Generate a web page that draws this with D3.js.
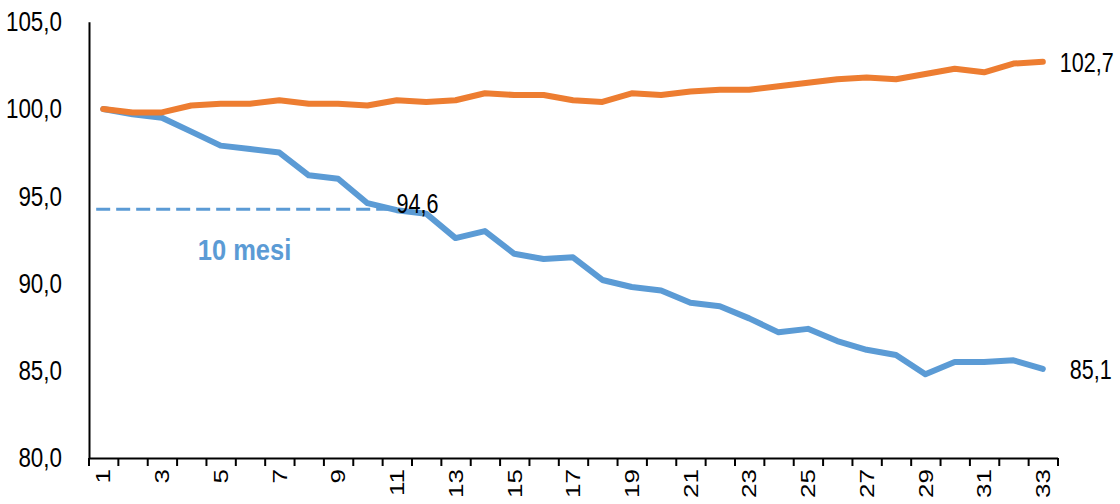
<!DOCTYPE html>
<html>
<head>
<meta charset="utf-8">
<script src="https://cdn.jsdelivr.net/npm/d3@7"></script>
<style>
  body { margin: 0; background: #fff; }
  svg { display: block; }
  text { font-family: "Liberation Sans", Arial, sans-serif; }
  .axis text { fill: #000; }
</style>
</head>
<body>
<svg class="chart" width="1120" height="504"></svg>
<script>
// months since start
const months = [1, 2, 3, 4, 5, 6, 7, 8, 9, 10, 11, 12, 13, 14, 15, 16, 17,
  18, 19, 20, 21, 22, 23, 24, 25, 26, 27, 28, 29, 30, 31, 32, 33];

// orange series (top)
const orangeValues = [100.0, 99.8, 99.8, 100.2, 100.3, 100.3, 100.5, 100.3, 100.3, 100.2,
  100.5, 100.4, 100.5, 100.9, 100.8, 100.8, 100.5, 100.4, 100.9, 100.8,
  101.0, 101.1, 101.1, 101.3, 101.5, 101.7, 101.8, 101.7, 102.0, 102.3,
  102.1, 102.6, 102.7];

// blue series (bottom)
const blueValues = [100.0, 99.7, 99.5, 98.7, 97.9, 97.7, 97.5, 96.2, 96.0, 94.6,
  94.2, 94.0, 92.6, 93.0, 91.7, 91.4, 91.5, 90.2, 89.8, 89.6,
  88.9, 88.7, 88.0, 87.2, 87.4, 86.7, 86.2, 85.9, 84.8, 85.5,
  85.5, 85.6, 85.1];

const yTicks = [80, 85, 90, 95, 100, 105];
const xTickLabels = months.filter(m => m % 2 === 1);

// annotation
const markMonth = 10;
const markText = "10 mesi";
const dashedLevel = 94.25;

const orange = "#ED7D31";
const blue = "#5B9BD5";

let leftEdge = 88.5, rightEdge = 1057.5
let topEdge = 21.7, bottomEdge = 458
let squeeze = 0.8 // the original text is narrow

const fmt = v => d3.format(".1f")(v).replace(".", ",");

// squeeze horizontal text to look like a narrow font
function condense(sel, k) {
  sel.each(function () {
    const w = this.getComputedTextLength();
    d3.select(this).attr("textLength", w * k).attr("lengthAdjust", "spacingAndGlyphs");
  });
}

const xScale = d3.scaleBand().domain(months).range([leftEdge, rightEdge]);
const xMid = m => xScale(m) + xScale.bandwidth() / 2;
const yScale = d3.scaleLinear().domain([80, 105]).range([bottomEdge, topEdge]);

const svg = d3.select(".chart");

// y axis, no ticks
const yAxis = d3.axisLeft(yScale).tickValues(yTicks).tickFormat(fmt).tickSize(0).tickPadding(27);
svg.append("g")
  .attr("class", "axis")
  .attr("transform", `translate(${leftEdge + 0.5},0)`)
  .call(yAxis)
  .call(g => g.select(".domain").attr("stroke", "#000").attr("stroke-width", 2))
  .selectAll("text")
  .attr("font-size", 28)
  .attr("font-family", null)
  .call(condense, squeeze);

// x axis ticks on category boundaries
const xEdges = d3.scaleLinear().domain([0, months.length]).range([leftEdge, rightEdge]);
svg.append("g")
  .attr("class", "axis")
  .attr("transform", `translate(0,${bottomEdge})`)
  .call(d3.axisBottom(xEdges).tickValues(d3.range(0, months.length + 1)).tickFormat("").tickSize(8).tickSizeOuter(0))
  .call(g => g.select(".domain").attr("stroke", "#000").attr("stroke-width", 2))
  .call(g => g.selectAll(".tick line").attr("stroke", "#000").attr("stroke-width", 2));

// x labels, rotated
svg.append("g")
  .attr("class", "axis")
  .attr("transform", `translate(0,${bottomEdge})`)
  .call(d3.axisBottom(xScale).tickValues(xTickLabels).tickSize(0).tickPadding(0))
  .call(g => g.select(".domain").remove())
  .selectAll("text")
  .attr("font-family", null)
  .attr("font-size", 26)
  .attr("text-anchor", "end")
  .attr("transform", `scale(${squeeze},1) rotate(-90)`)
  .attr("x", -11)
  .attr("y", 0)
  .attr("dy", "0.35em");

// dashed reference line for the 10 month mark
svg.append("line")
  .attr("x1", xMid(1) - 7)
  .attr("x2", xMid(markMonth + 1) - 4)
  .attr("y1", yScale(dashedLevel))
  .attr("y2", yScale(dashedLevel))
  .attr("stroke", blue)
  .attr("stroke-width", 3)
  .attr("stroke-dasharray", "14,6");

const line = d3.line()
  .x((d, i) => xMid(months[i]))
  .y(d => yScale(d));

svg.append("path")
  .datum(blueValues)
  .attr("fill", "none")
  .attr("stroke", blue)
  .attr("stroke-width", 6)
  .attr("stroke-linejoin", "round")
  .attr("stroke-linecap", "round")
  .attr("d", line);

svg.append("path")
  .datum(orangeValues)
  .attr("fill", "none")
  .attr("stroke", orange)
  .attr("stroke-width", 6)
  .attr("stroke-linejoin", "round")
  .attr("stroke-linecap", "round")
  .attr("d", line);

// value labels
const last = months.length - 1;
const labels = [
  { m: months[last], v: orangeValues[last], dx: 17 },
  { m: months[last], v: blueValues[last], dx: 27 },
  { m: markMonth, v: blueValues[markMonth - 1], dx: 29 }
];
svg.selectAll(".vlabel")
  .data(labels)
  .enter()
  .append("text")
  .attr("class", "vlabel")
  .attr("x", d => xMid(d.m) + d.dx)
  .attr("y", d => yScale(d.v))
  .attr("dy", "0.35em")
  .attr("font-size", 28)
  .attr("fill", "#000")
  .text(d => fmt(d.v))
  .call(condense, 0.77);

svg.append("text")
  .attr("x", (xMid(1) - 7 + xMid(markMonth + 1) - 4) / 2)
  .attr("y", yScale(dashedLevel) + 51)
  .attr("text-anchor", "middle")
  .attr("font-size", 30)
  .attr("font-weight", "bold")
  .attr("fill", blue)
  .text(markText)
  .call(condense, 0.85);
</script>
</body>
</html>
